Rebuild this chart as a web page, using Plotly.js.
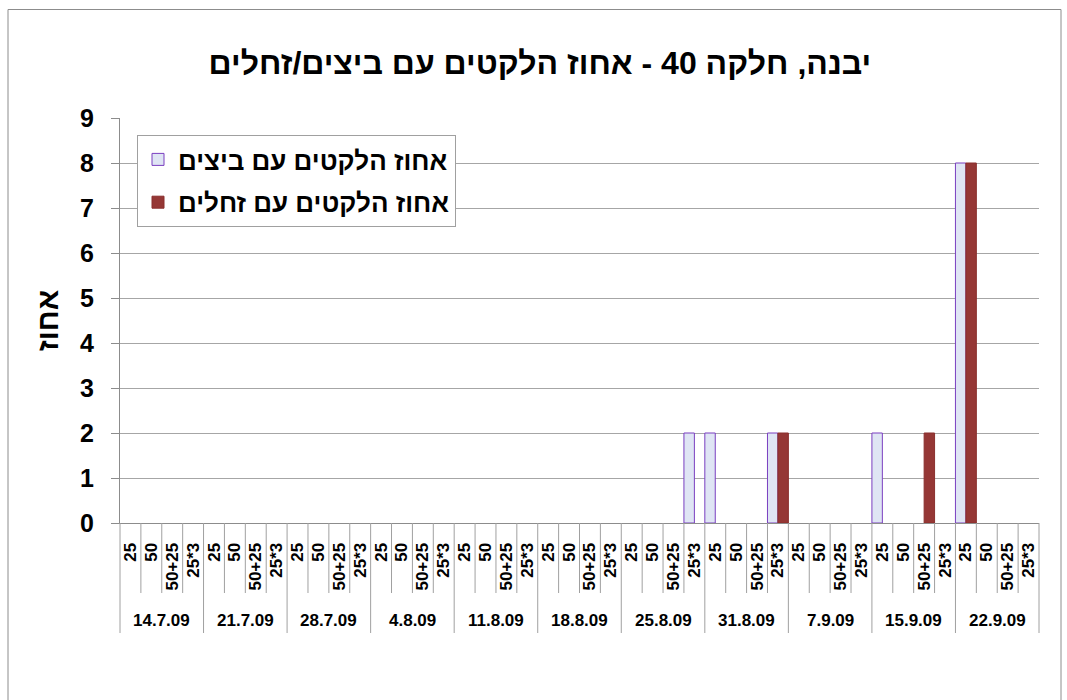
<!DOCTYPE html>
<html>
<head>
<meta charset="utf-8">
<script src="https://cdn.plot.ly/plotly-3.0.1.min.js"></script>
<style>html,body{margin:0;padding:0;background:#fff;}#chart{width:1067px;height:700px;}</style>
</head>
<body>
<div id="chart"></div>
<script>
// ---- data ----
const dates = ['14.7.09','21.7.09','28.7.09','4.8.09','11.8.09','18.8.09','25.8.09','31.8.09','7.9.09','15.9.09','22.9.09'];
const subLabels = ['25','50','50+25','25*3'];
// blank cells are null
const eggs = [
  [null,null,null,null],[null,null,null,null],[null,null,null,null],[null,null,null,null],
  [null,null,null,null],[null,null,null,null],
  [null,null,null,2],[2,null,null,2],[null,null,null,null],[2,null,null,null],[8,null,null,null]
];
const larvae = [
  [null,null,null,null],[null,null,null,null],[null,null,null,null],[null,null,null,null],
  [null,null,null,null],[null,null,null,null],
  [null,null,null,null],[null,null,null,2],[null,null,null,null],[null,null,2,null],[8,null,null,null]
];
const seriesNames = ['אחוז הלקטים עם ביצים','אחוז הלקטים עם זחלים'];
const titleText = 'יבנה, חלקה 40 - אחוז הלקטים עם ביצים/זחלים';
const yTitle = 'אחוז';

// ---- build ----
const nSub = subLabels.length;
const idx = [], inner = [];
dates.forEach((d, g) => subLabels.forEach((s, k) => { idx.push(g * nSub + k); inner.push(s); }));
const groupCenters = dates.map((d, g) => g * nSub + (nSub - 1) / 2);
const flat = a => a.reduce((r, g) => r.concat(g), []);
const nCat = idx.length;

const FONT = 'Liberation Sans, Arial, sans-serif';
const W = 1067, H = 700;
const L = 120, R = 1039, T = 118, B = 523;
const px2x = p => (p - L) / (R - L);
const px2y = p => (B - p) / (B - T);

const traces = [
  {type:'bar', name: '<b>' + seriesNames[0] + '</b>', x: idx, y: flat(eggs),
   marker:{color:'#dfe5f4', line:{color:'#7a3fc0', width:1}}, legendgroup:'a'},
  {type:'bar', name: '<b>' + seriesNames[1] + '</b>', x: idx, y: flat(larvae),
   marker:{color:'#953735', line:{color:'#8a2f2d', width:1}}, legendgroup:'b'}
];

const shapes = [];
for (let i = 0; i <= nCat; i++) {
  const isGroup = (i % nSub === 0);
  shapes.push({type:'line', xref:'paper', yref:'paper', x0:i/nCat, x1:i/nCat,
    y0:px2y(523), y1:px2y(isGroup ? 633 : 593), line:{color:'#a0a0a0', width:1}});
}
shapes.push({type:'rect', xref:'paper', yref:'paper', x0:px2x(8), x1:px2x(1061),
  y0:px2y(712), y1:px2y(9.5), line:{color:'#8c8c8c', width:1}, fillcolor:'rgba(0,0,0,0)'});

const tickFont = {family: FONT, size: 17, color: '#000', weight: 'bold'};
const annotations = dates.map((d, g) => ({
  xref: 'x', yref: 'paper', x: groupCenters[g], y: px2y(620),
  xanchor: 'center', yanchor: 'middle', showarrow: false,
  text: '<b>' + d + '</b>', font: {family: FONT, size: 17, color: '#000'}
}));

const layout = {
  width: W, height: H,
  margin: {l: L, r: W - R, t: T, b: H - B, pad: 0},
  paper_bgcolor: '#fff', plot_bgcolor: '#fff',
  font: {family: FONT, color: '#000'},
  title: {text: '<b>' + titleText + '</b>', font: {family: FONT, size: 32, color: '#000'},
          xref: 'container', yref: 'container', x: 0.506, xanchor: 'center', y: 1 - 63/H, yanchor: 'middle'},
  barmode: 'group', bargap: 0, bargroupgap: 0,
  xaxis: {
    type: 'linear', range: [-0.5, nCat - 0.5], fixedrange: true,
    tickmode: 'array', tickvals: idx, ticktext: inner,
    showgrid: false, zeroline: false,
    showline: true, linecolor: '#8c8c8c', linewidth: 1,
    ticks: 'outside', ticklen: 12, tickcolor: 'rgba(0,0,0,0)',
    tickangle: -90, tickfont: tickFont, automargin: false
  },
  yaxis: {
    range: [0, 9], dtick: 1, tick0: 0,
    showgrid: true, gridcolor: '#a6a6a6', gridwidth: 1,
    zeroline: false, showline: true, linecolor: '#8c8c8c', linewidth: 1,
    ticks: 'outside', ticklen: 8, tickcolor: '#8c8c8c', ticklabelstandoff: 12,
    tickfont: {family: FONT, size: 25, color: '#000', weight: 'bold'},
    title: {text: '<b>' + yTitle + '</b>', font: {family: FONT, size: 30, color: '#000'}, standoff: 12},
    automargin: false
  },
  legend: {
    x: px2x(137), y: px2y(135), xanchor: 'left', yanchor: 'top',
    bgcolor: '#fff', bordercolor: '#a0a0a0', borderwidth: 1,
    font: {family: FONT, size: 26, color: '#000'},
    traceorder: 'grouped', tracegroupgap: 6
  },
  annotations: annotations,
  shapes: shapes,
  showlegend: true
};

Plotly.newPlot('chart', traces, layout, {displayModeBar: false, staticPlot: true});
</script>
</body>
</html>
